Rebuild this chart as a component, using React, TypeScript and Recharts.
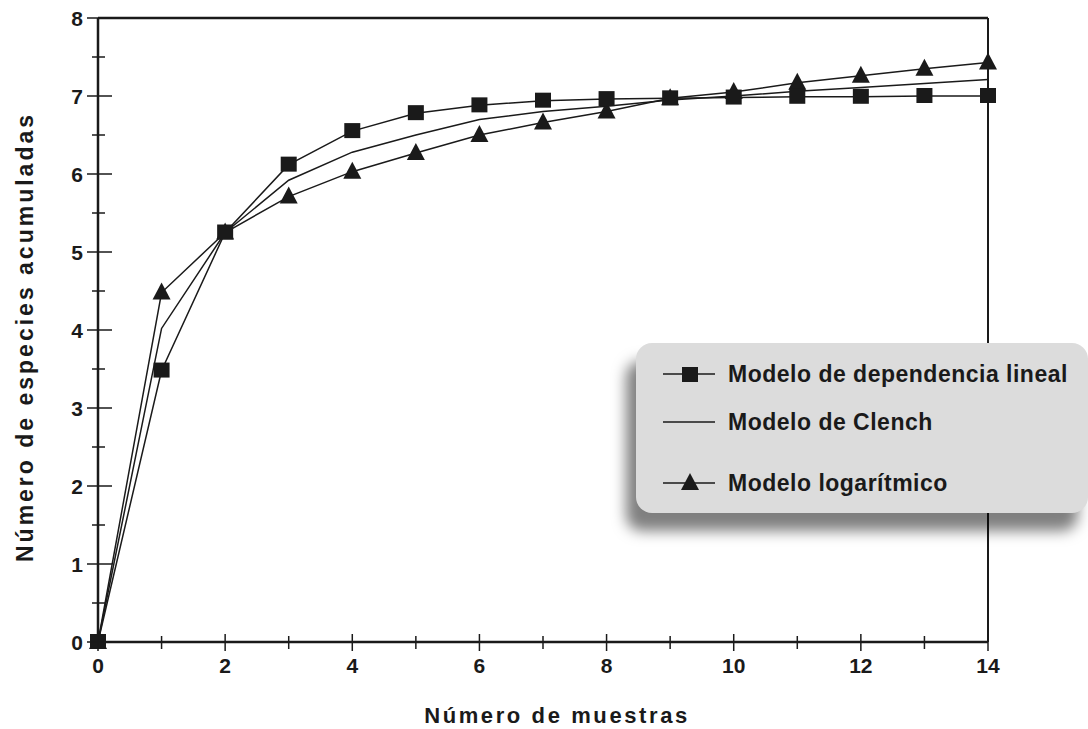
import React from 'react';
import { LineChart, Line, XAxis, YAxis, ReferenceLine } from 'recharts';

// Número de muestras
const muestras = [0, 1, 2, 3, 4, 5, 6, 7, 8, 9, 10, 11, 12, 13, 14];
// Modelo de dependencia lineal
const lineal = [0, 3.48, 5.25, 6.12, 6.55, 6.78, 6.88, 6.94, 6.96, 6.97, 6.98, 6.99, 6.99, 7.0, 7.0];
// Modelo de Clench
const clench = [0, 4.02, 5.25, 5.92, 6.28, 6.5, 6.7, 6.8, 6.87, 6.95, 7.0, 7.06, 7.11, 7.16, 7.21];
// Modelo logarítmico
const logaritmico = [0, 4.48, 5.25, 5.71, 6.03, 6.27, 6.5, 6.66, 6.8, 6.97, 7.05, 7.17, 7.26, 7.35, 7.43];

const xTicks = [0, 1, 2, 3, 4, 5, 6, 7, 8, 9, 10, 11, 12, 13, 14];
const yTicks = [0, 0.5, 1, 1.5, 2, 2.5, 3, 3.5, 4, 4.5, 5, 5.5, 6, 6.5, 7, 7.5, 8];

const INK = '#1a1a1a';
const FONT = '"Liberation Sans", Arial, sans-serif';

const data = muestras.map((m, i) => ({
  muestra: m,
  lineal: lineal[i],
  clench: clench[i],
  log: logaritmico[i],
}));

const SquareDot = (props: any) => {
  const { cx, cy } = props;
  if (cx == null || cy == null) return null;
  return <rect x={cx - 8} y={cy - 8} width={16} height={15} fill={INK} />;
};

const TriangleDot = (props: any) => {
  const { cx, cy } = props;
  if (cx == null || cy == null) return null;
  return <polygon points={`${cx},${cy - 10} ${cx - 9},${cy + 7} ${cx + 9},${cy + 7}`} fill={INK} />;
};

const XTick = (props: any) => {
  const { x, y, payload } = props;
  const v = payload.value;
  const major = v % 2 === 0;
  return (
    <g>
      <line x1={x} x2={x} y1={y - (major ? 8 : 6)} y2={y + (major ? 9 : 7)} stroke={INK} strokeWidth={1.5} />
      {major && (
        <text x={x} y={y + 31} textAnchor="middle" fontFamily={FONT} fontWeight="bold" fontSize={21} fill={INK}>
          {v}
        </text>
      )}
    </g>
  );
};

const YTick = (props: any) => {
  const { x, y, payload } = props;
  const v = payload.value;
  const major = Number.isInteger(v);
  return (
    <g>
      <line x1={x - (major ? 11 : 6)} x2={x + (major ? 14 : 7)} y1={y} y2={y} stroke={INK} strokeWidth={1.5} />
      {major && (
        <text x={x - 15} y={y + 8} textAnchor="end" fontFamily={FONT} fontWeight="bold" fontSize={21} fill={INK}>
          {v}
        </text>
      )}
    </g>
  );
};

const legendRows = [
  { label: 'Modelo de dependencia lineal', mark: 'square', cy: 31 },
  { label: 'Modelo de Clench', mark: 'none', cy: 79 },
  { label: 'Modelo logarítmico', mark: 'triangle', cy: 140 },
];

const LegendBox = () => (
  <div
    style={{
      position: 'absolute',
      left: 636,
      top: 343,
      width: 452,
      height: 170,
      background: '#dcdcdc',
      borderRadius: 16,
      boxShadow: '-10px 18px 14px rgba(0,0,0,0.5)',
    }}
  >
    {legendRows.map((r) => (
      <div
        key={r.label}
        style={{ position: 'absolute', left: 27, top: r.cy - 15, height: 30, display: 'flex', alignItems: 'center' }}
      >
        <svg width={52} height={30} style={{ display: 'block' }}>
          <line x1={0} x2={52} y1={15} y2={15} stroke={INK} strokeWidth={1.5} />
          {r.mark === 'square' && <rect x={19} y={8} width={16} height={15} fill={INK} />}
          {r.mark === 'triangle' && <polygon points="27,5 18,22 36,22" fill={INK} />}
        </svg>
        <span
          style={{
            marginLeft: 13,
            fontFamily: FONT,
            fontWeight: 'bold',
            fontSize: 23,
            color: INK,
            letterSpacing: 0.5,
            whiteSpace: 'nowrap',
            lineHeight: '30px',
          }}
        >
          {r.label}
        </span>
      </div>
    ))}
  </div>
);

export default function App() {
  return (
    <div style={{ position: 'absolute', left: 0, top: 0, width: 1088, height: 729, background: '#fff' }}>
      <LineChart width={1088} height={729} data={data} margin={{ top: 18, right: 100, left: 0, bottom: 0 }}>
        <XAxis
          dataKey="muestra"
          type="number"
          domain={[0, 14]}
          ticks={xTicks}
          interval={0}
          height={87}
          tickSize={0}
          tickMargin={0}
          tickLine={false}
          tick={<XTick />}
          axisLine={{ stroke: INK, strokeWidth: 2.5 }}
          label={{
            content: () => (
              <text
                x={557}
                y={723}
                textAnchor="middle"
                fontFamily={FONT}
                fontWeight="bold"
                fontSize={22}
                letterSpacing={2.6}
                fill={INK}
              >
                Número de muestras
              </text>
            ),
          }}
        />
        <YAxis
          type="number"
          domain={[0, 8]}
          ticks={yTicks}
          interval={0}
          width={98}
          tickSize={0}
          tickMargin={0}
          tickLine={false}
          tick={<YTick />}
          axisLine={{ stroke: INK, strokeWidth: 2.5 }}
          label={{
            content: () => {
              const cx = 25;
              const cy = 337;
              return (
                <text
                  x={cx}
                  y={cy}
                  transform={`rotate(-90 ${cx} ${cy})`}
                  textAnchor="middle"
                  dominantBaseline="central"
                  fontFamily={FONT}
                  fontWeight="bold"
                  fontSize={23}
                  letterSpacing={3}
                  fill={INK}
                >
                  Número de especies acumuladas
                </text>
              );
            },
          }}
        />
        <ReferenceLine y={8} stroke={INK} strokeWidth={2.5} />
        <ReferenceLine x={14} stroke={INK} strokeWidth={2} />
        <Line dataKey="clench" name="Modelo de Clench" stroke={INK} strokeWidth={1.5} dot={false} isAnimationActive={false} />
        <Line
          dataKey="log"
          name="Modelo logarítmico"
          stroke={INK}
          strokeWidth={1.5}
          dot={<TriangleDot />}
          isAnimationActive={false}
        />
        <Line
          dataKey="lineal"
          name="Modelo de dependencia lineal"
          stroke={INK}
          strokeWidth={1.5}
          dot={<SquareDot />}
          isAnimationActive={false}
        />
      </LineChart>
      <LegendBox />
    </div>
  );
}
